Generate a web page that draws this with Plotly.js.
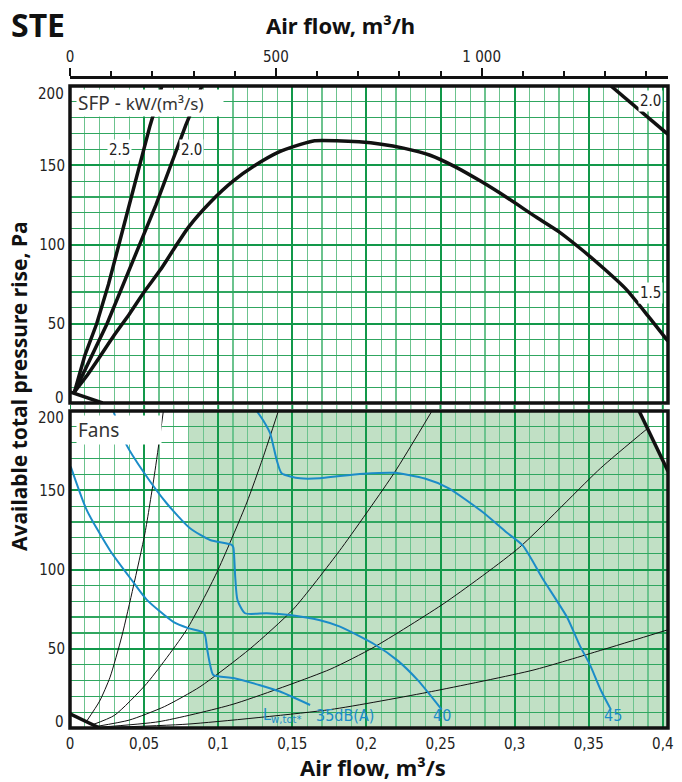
<!DOCTYPE html>
<html>
<head>
<meta charset="utf-8">
<script src="https://cdn.plot.ly/plotly-3.0.1.min.js"></script>
<style>
  html, body { margin: 0; padding: 0; background: #fff; }
  #chart { width: 682px; height: 782px; }
</style>
</head>
<body>
<div id="chart"></div>
<script>
// ---- data (air flow in m3/s, pressure in Pa) ----
const xMax = 0.4035;

// top panel: SFP lines
const sfp15X = [0.003, 0.012, 0.020, 0.030, 0.040, 0.050, 0.061, 0.070, 0.080, 0.095, 0.110, 0.125, 0.140, 0.155, 0.165, 0.180, 0.195, 0.210, 0.225, 0.243, 0.260, 0.277, 0.295, 0.315, 0.330, 0.345, 0.360, 0.375, 0.390, 0.4035];
const sfp15Y = [7, 18, 29, 43, 56, 70, 84, 97, 111, 127, 140, 150, 158, 163, 165.5, 165.5, 164.8, 163.3, 160.8, 156.3, 149, 140, 129.5, 117, 108, 97, 85, 72, 55, 39];
const sfp20X = [0.003, 0.015, 0.025, 0.036, 0.047, 0.058, 0.068, 0.078, 0.089];
const sfp20Y = [7, 30, 50, 75, 100, 125, 150, 175, 200];
const sfp25X = [0.003, 0.010, 0.018, 0.026, 0.033, 0.040, 0.047, 0.054, 0.062];
const sfp25Y = [7, 30, 50, 75, 100, 125, 150, 175, 200];
const sfp20bX = [0.365, 0.4035];
const sfp20bY = [200, 169.5];
const topCornerX = [0, 0.022];
const topCornerY = [7, 0];

// bottom panel: system curves
const sysAX = [0.011, 0.020, 0.027, 0.035, 0.0427, 0.0506, 0.057, 0.063];
const sysAY = [4, 17, 32, 58, 89, 123, 160, 200];
const sysBX = [0.015, 0.030, 0.0517, 0.0787, 0.099, 0.1192, 0.130, 0.1406];
const sysBY = [2, 8, 28, 62, 98, 142, 170, 200];
const sysCX = [0.018, 0.040, 0.0637, 0.0877, 0.1215, 0.1507, 0.182, 0.2188, 0.2439];
const sysCY = [1, 5, 13.5, 26, 50, 75, 112, 161, 199.5];
const sysDX = [0.020, 0.060, 0.110, 0.1754, 0.2051, 0.253, 0.3033, 0.3581, 0.391];
const sysDY = [0.5, 4, 15, 37, 51, 79, 114, 164, 190];
const sysEX = [0.020, 0.080, 0.1754, 0.2439, 0.3124, 0.3581, 0.4035];
const sysEY = [0.2, 2.5, 11.6, 23, 36.5, 49, 62];

// bottom panel: fan curves (sound level)
const fan35X = [0.0005, 0.0113, 0.027, 0.0427, 0.0517, 0.0697, 0.0798, 0.0905, 0.0925, 0.0945, 0.0967, 0.1102, 0.1282, 0.1417, 0.162];
const fan35Y = [165, 137.5, 112, 92, 81, 67, 63, 60, 50, 40, 33.5, 31.5, 27, 23, 14.5];
const fan40X = [0.0292, 0.0382, 0.0495, 0.0652, 0.081, 0.0945, 0.1091, 0.1102, 0.1115, 0.1130, 0.1181, 0.1327, 0.1484, 0.1687, 0.1822, 0.2051, 0.2211, 0.2348, 0.2508];
const fan40Y = [200, 178.5, 161.7, 141.8, 126, 118.6, 115.5, 114, 95, 80.8, 72.4, 72.4, 71.3, 68, 64, 53, 42.5, 30, 11.6];
const fan45X = [0.126, 0.1304, 0.135, 0.1395, 0.1428, 0.1552, 0.1687, 0.1822, 0.1982, 0.2188, 0.2394, 0.2553, 0.2782, 0.2942, 0.3056, 0.3193, 0.3353, 0.3440, 0.3508, 0.3581, 0.365];
const fan45Y = [200, 194, 186, 169, 160.7, 157.5, 157.5, 159, 160.4, 161, 157.4, 151.4, 136.4, 123.7, 115.1, 93.7, 70, 52, 40, 24, 11.6];

const botCornerX = [0, 0.020];
const botCornerY = [9, 0];
const limitX = [0.384, 0.4035];
const limitY = [200, 162];

// shaded working area
const shadeX = [0.08, 0.08, 0.384, 0.4035, 0.4035];
const shadeY = [0, 200, 200, 162, 0];

// axes
const yTickVals = [50, 100, 150];
const topTickVals = [0, 500, 1000];
const topTickText = ["0", "500", "1 000"];
const topMinorTicks = [100, 200, 300, 400, 600, 700, 800, 900, 1100, 1200, 1300, 1400];

// ---- styling ----
const W = 682, H = 782;
const M = { l: 70, r: 14, t: 77, b: 54 };
const plotW = W - M.l - M.r;
const plotH = H - M.t - M.b;
const px2x = px => (px - M.l) / plotW;
const py2y = py => (H - M.b - py) / plotH;

const BLUE = "#1b8cc8";
const GRID_MAJOR = "#12984a";
const GRID_MINOR_H = "#30a660";
const GRID_MINOR_V = "#6cc38e";
const SHADE = "#c1e0c5";
const NARROW = "DejaVu Sans Condensed, Liberation Sans Narrow, sans-serif";
const MAIN = "Noto Sans, Open Sans, sans-serif";

function line(x, y, yaxis, color, width, shape) {
    return {
        x, y, xaxis: "x", yaxis,
        type: "scatter", mode: "lines",
        line: { color, width, shape: shape || "spline", smoothing: 0.6 },
        hoverinfo: "skip", showlegend: false
    };
}

const traces = [
    line(sfp15X, sfp15Y, "y2", "#111", 3.5),
    line(sfp20X, sfp20Y, "y2", "#111", 3.5, "linear"),
    line(sfp25X, sfp25Y, "y2", "#111", 3.5, "linear"),
    line(sfp20bX, sfp20bY, "y2", "#111", 3.5, "linear"),
    line(topCornerX, topCornerY, "y2", "#111", 3.5, "linear"),

    line(sysAX, sysAY, "y", "#111", 1),
    line(sysBX, sysBY, "y", "#111", 1),
    line(sysCX, sysCY, "y", "#111", 1),
    line(sysDX, sysDY, "y", "#111", 1),
    line(sysEX, sysEY, "y", "#111", 1),

    line(fan35X, fan35Y, "y", BLUE, 2),
    line(fan40X, fan40Y, "y", BLUE, 2),
    line(fan45X, fan45Y, "y", BLUE, 2),

    line(botCornerX, botCornerY, "y", "#111", 3.5, "linear"),
    line(limitX, limitY, "y", "#111", 3.5, "linear"),

    // keeps the m3/h axis alive
    {
        x: [0], y: [0], xaxis: "x2", yaxis: "y2", mode: "markers",
        marker: { opacity: 0 }, hoverinfo: "skip", showlegend: false
    }
];

let shadePath = `M${shadeX[0]},${shadeY[0]}`;
for (let i = 1; i < shadeX.length; i++) shadePath += ` L${shadeX[i]},${shadeY[i]}`;
shadePath += " Z";

const tickFont = { family: NARROW, size: 15, color: "#222" };

const yCommon = {
    range: [0, 200],
    tickmode: "array", tickvals: yTickVals,
    showgrid: true, gridcolor: GRID_MAJOR, gridwidth: 2,
    minor: { dtick: 10, showgrid: true, gridcolor: GRID_MINOR_H, gridwidth: 1.2 },
    ticks: "", zeroline: false, showline: false,
    tickfont: tickFont,
    ticklabelstandoff: 4,
    fixedrange: true
};

// short grid stubs in the gap between the two panels
const gapShapes = [];
for (let i = 0; i <= 40; i++) {
    const major = i % 5 === 0;
    gapShapes.push({
        type: "line", xref: "x", yref: "paper",
        x0: i / 100, x1: i / 100, y0: py2y(409), y1: py2y(405),
        line: { color: major ? GRID_MAJOR : GRID_MINOR_V, width: major ? 2 : 1.2 },
        layer: "below"
    });
}

// end labels of the pressure axes, pulled inside like on the original
const yEndLabels = [
    { text: "200", py: 94 }, { text: "0", py: 398 },
    { text: "200", py: 418 }, { text: "0", py: 722 }
].map(d => ({
    text: d.text, xref: "paper", yref: "paper", x: px2x(66), y: py2y(d.py),
    xanchor: "right", yanchor: "middle", showarrow: false, font: tickFont
}));

const layout = {
    width: W, height: H,
    margin: M,
    paper_bgcolor: "#fff",
    plot_bgcolor: "#fff",
    separators: ", ",
    showlegend: false,
    xaxis: {
        domain: [0, 1], anchor: "y",
        range: [0, xMax],
        tick0: 0, dtick: 0.05,
        showgrid: true, gridcolor: GRID_MAJOR, gridwidth: 2,
        minor: { dtick: 0.01, showgrid: true, gridcolor: GRID_MINOR_V, gridwidth: 1.2 },
        ticks: "", zeroline: false, showline: false,
        tickfont: tickFont,
        ticklabelstandoff: 5,
        fixedrange: true
    },
    xaxis2: {
        overlaying: "x", anchor: "free", position: 1, side: "top",
        range: [0, xMax * 3600],
        tickmode: "array", tickvals: topTickVals, ticktext: topTickText,
        ticks: "outside", ticklen: 8, tickwidth: 2, tickcolor: "#111",
        minor: { tickmode: "array", tickvals: topMinorTicks, ticks: "outside", ticklen: 5, tickwidth: 2, tickcolor: "#111", showgrid: false },
        showline: true, linewidth: 3, linecolor: "#111",
        showgrid: false, zeroline: false,
        tickfont: tickFont,
        fixedrange: true
    },
    yaxis: Object.assign({ domain: [0, py2y(411)], anchor: "x" }, yCommon),
    yaxis2: Object.assign({ domain: [py2y(403), py2y(86)], anchor: "x" }, yCommon),
    shapes: [
        {
            type: "path", path: shadePath, xref: "x", yref: "y",
            fillcolor: SHADE, line: { width: 0 }, layer: "below"
        },
        ...gapShapes,
        {
            type: "rect", xref: "x domain", yref: "y domain", x0: 0, x1: 1, y0: 0, y1: 1,
            line: { color: "#111", width: 3.5 }, layer: "above"
        },
        {
            type: "rect", xref: "x domain", yref: "y2 domain", x0: 0, x1: 1, y0: 0, y1: 1,
            line: { color: "#111", width: 3.5 }, layer: "above"
        }
    ],
    annotations: [
        ...yEndLabels,
        {
            text: "<b>STE</b>", xref: "paper", yref: "paper", x: px2x(9), y: py2y(25),
            xanchor: "left", yanchor: "middle", showarrow: false,
            font: { family: MAIN, size: 32, color: "#111" }
        },
        {
            text: "<b>Air flow, m³/h</b>", xref: "paper", yref: "paper", x: px2x(340), y: py2y(25),
            xanchor: "center", yanchor: "middle", showarrow: false,
            font: { family: MAIN, size: 22, color: "#111" }
        },
        {
            text: "<b>Air flow, m³/s</b>", xref: "paper", yref: "paper", x: px2x(373), y: py2y(767),
            xanchor: "center", yanchor: "middle", showarrow: false,
            font: { family: MAIN, size: 22, color: "#111" }
        },
        {
            text: "<b>Available total pressure rise, Pa</b>", xref: "paper", yref: "paper",
            x: px2x(19), y: py2y(386), textangle: -90,
            xanchor: "center", yanchor: "middle", showarrow: false,
            font: { family: MAIN, size: 21, color: "#111" }
        },
        {
            text: "SFP - <span style='font-size:17px'>kW/(m³/s)</span>", xref: "x", yref: "y2",
            x: 0.004, y: 189, xanchor: "left", yanchor: "middle", align: "left",
            width: 144, height: 24, bgcolor: "#fff", borderpad: 1, showarrow: false,
            font: { family: MAIN, size: 19, color: "#333" }
        },
        {
            text: "Fans", xref: "x", yref: "y",
            x: 0.004, y: 188, xanchor: "left", yanchor: "middle", align: "left",
            width: 82, height: 26, bgcolor: "#fff", borderpad: 1, showarrow: false,
            font: { family: MAIN, size: 19, color: "#333" }
        },
        {
            text: "2.5", xref: "x", yref: "y2", x: 0.0337, y: 159.6,
            bgcolor: "#fff", borderpad: 1, showarrow: false,
            font: { family: NARROW, size: 15, color: "#222" }
        },
        {
            text: "2.0", xref: "x", yref: "y2", x: 0.0823, y: 159.6,
            bgcolor: "#fff", borderpad: 1, showarrow: false,
            font: { family: NARROW, size: 15, color: "#222" }
        },
        {
            text: "2.0", xref: "x", yref: "y2", x: 0.3915, y: 190.5,
            bgcolor: "#fff", borderpad: 1, showarrow: false,
            font: { family: NARROW, size: 15, color: "#222" }
        },
        {
            text: "1.5", xref: "x", yref: "y2", x: 0.3915, y: 69.4,
            bgcolor: "#fff", borderpad: 1, showarrow: false,
            font: { family: NARROW, size: 15, color: "#222" }
        },
        {
            text: "L<sub>w,tot*</sub>", xref: "x", yref: "y", x: 0.1437, y: 7.6,
            showarrow: false, font: { family: NARROW, size: 16, color: BLUE }
        },
        {
            text: "35dB(A)", xref: "x", yref: "y", x: 0.1856, y: 7.6,
            showarrow: false, font: { family: NARROW, size: 16, color: BLUE }
        },
        {
            text: "40", xref: "x", yref: "y", x: 0.251, y: 7.6,
            showarrow: false, font: { family: NARROW, size: 16, color: BLUE }
        },
        {
            text: "45", xref: "x", yref: "y", x: 0.3664, y: 7.6,
            showarrow: false, font: { family: NARROW, size: 16, color: BLUE }
        }
    ]
};

Plotly.newPlot("chart", traces, layout, { displayModeBar: false, staticPlot: true });
</script>
</body>
</html>
